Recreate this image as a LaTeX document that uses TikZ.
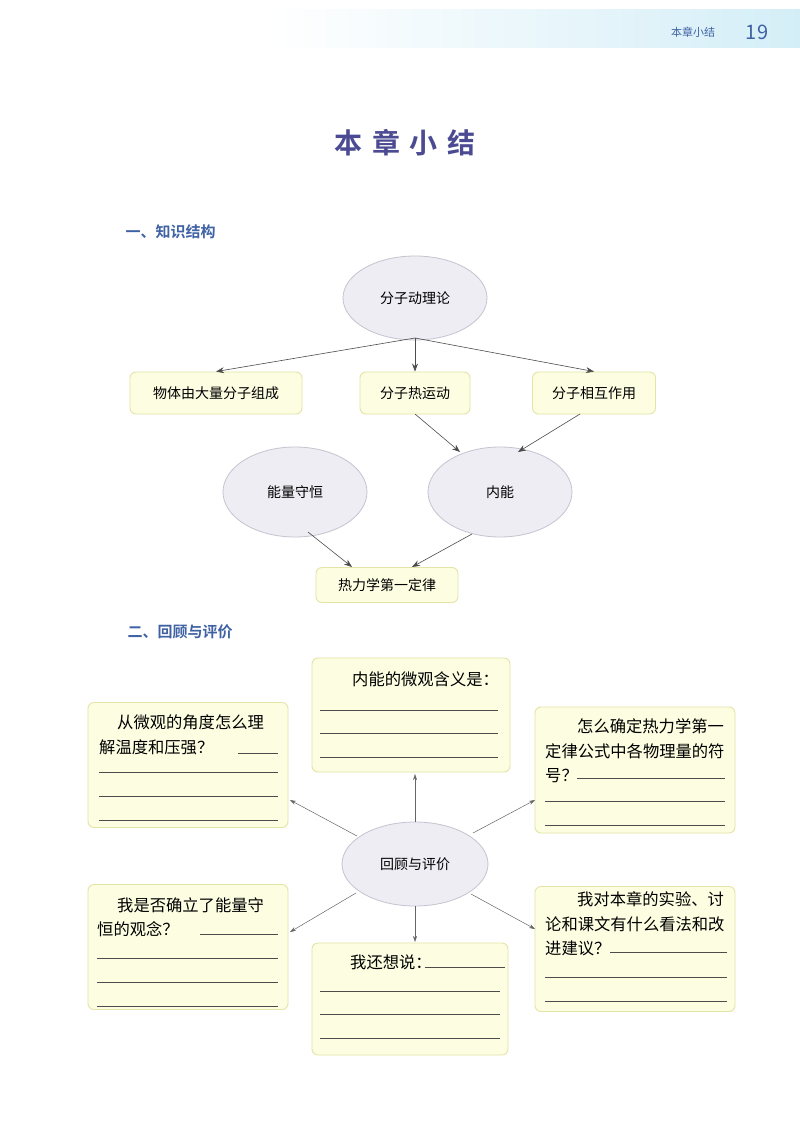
\documentclass[tikz,border=0pt]{standalone}
\usepackage{fontspec}
\setmainfont{Noto Sans CJK SC}
\newfontfamily\heavyf{Noto Sans CJK SC Bold}
\usetikzlibrary{shapes.geometric,arrows.meta}
\definecolor{boxfill}{HTML}{FDFDE2}
\definecolor{boxline}{HTML}{E4E4A6}
\definecolor{ellfill}{HTML}{EEEDF4}
\definecolor{ellline}{HTML}{C4C4D0}
\definecolor{titlec}{HTML}{4B4A92}
\definecolor{headc}{HTML}{3F62A4}
\definecolor{bandc}{HTML}{D4EEF7}
\tikzset{
 ybox/.style={draw=boxline,fill=boxfill,rounded corners=6pt,line width=0.9pt,inner sep=0pt,font=\fontsize{14}{16}\selectfont},
 ell/.style={ellipse,draw=ellline,fill=ellfill,line width=0.8pt,inner sep=0pt,font=\fontsize{14}{16}\selectfont},
 arr/.style={-{Stealth[length=8pt,width=6pt]},draw=black!70,line width=0.6pt},
 arr2/.style={-{Stealth[length=6pt,width=4pt]},draw=black!60,line width=0.5pt},
 txt/.style={anchor=base west,inner sep=0pt,font=\fontsize{16.3}{17}\selectfont},
 uline/.style={draw=black!70,line width=0.5pt}
}
\begin{document}
\begin{tikzpicture}[x=1pt,y=-1pt]
\useasboundingbox (0,0) rectangle (800,1132);
\fill[white] (0,0) rectangle (800,1132);
\shade[left color=white,right color=bandc] (270,10) rectangle (800,48);
\node[font=\fontsize{11}{12}\selectfont,text=headc] (hd) at (693,32) {本章小结};
\node[font=\fontsize{20}{22}\selectfont,text=headc] (pg) at (757,32) {19};
\node[font=\heavyf\fontsize{28}{30}\selectfont,text=titlec] (title) at (405,143) {本\hspace{10pt}章\hspace{10pt}小\hspace{10pt}结};
\node[font=\heavyf\fontsize{15}{16}\selectfont,text=headc,anchor=west] (s1) at (122,232) {一、知识结构};
\node[font=\heavyf\fontsize{15}{16}\selectfont,text=headc,anchor=west] (s2) at (124,632) {二、回顾与评价};
% part 1
\node[ell,minimum width=144pt,minimum height=84pt] (kt) at (415,298) {分子动理论};
\node[ybox,minimum width=172pt,minimum height=42pt] (b1) at (216,393) {物体由大量分子组成};
\node[ybox,minimum width=110pt,minimum height=42pt] (b2) at (415,393) {分子热运动};
\node[ybox,minimum width=123pt,minimum height=42pt] (b3) at (594,393) {分子相互作用};
\node[ell,minimum width=144pt,minimum height=90pt] (nl) at (295,492) {能量守恒};
\node[ell,minimum width=144pt,minimum height=90pt] (ne) at (500,492) {内能};
\node[ybox,minimum width=142pt,minimum height=35pt] (rl) at (387,585) {热力学第一定律};
\coordinate (k0) at (415,338);
\draw[arr] (k0) -- (b1.north);
\draw[arr] (k0) -- (b2.north);
\draw[arr] (k0) -- (b3.north);
\coordinate (b2s) at (415,414);\coordinate (ne1) at (460,452);
\coordinate (b3s) at (580,414);\coordinate (ne2) at (518,452);
\draw[arr] (b2s) -- (ne1);
\draw[arr] (b3s) -- (ne2);
\coordinate (nl1) at (308,532);\coordinate (rl1) at (352,567);
\coordinate (ne3) at (472,534);\coordinate (rl2) at (412,567);
\draw[arr] (nl1) -- (rl1);
\draw[arr] (ne3) -- (rl2);
% part 2
\node[ell,minimum width=146pt,minimum height=84pt] (hg) at (415,864) {回顾与评价};
\node[ybox,minimum width=198pt,minimum height=114pt] (q1) at (411,715) {};
\node[ybox,minimum width=200pt,minimum height=125pt] (q2) at (188,765) {};
\node[ybox,minimum width=200pt,minimum height=126pt] (q3) at (635,770) {};
\node[ybox,minimum width=200pt,minimum height=125pt] (q4) at (188,947) {};
\node[ybox,minimum width=200pt,minimum height=125pt] (q5) at (635,949) {};
\node[ybox,minimum width=196pt,minimum height=112pt] (q6) at (410,999) {};
\coordinate (h1) at (415,822);\coordinate (t1) at (415,774);
\coordinate (h2) at (357,836);\coordinate (t2) at (290,800);
\coordinate (h3) at (473,833);\coordinate (t3) at (535,800);
\coordinate (h4) at (356,893);\coordinate (t4) at (290,932);
\coordinate (h5) at (471,894);\coordinate (t5) at (535,929);
\coordinate (h6) at (415,906);\coordinate (t6) at (415,942);
\foreach \i in {1,...,6} {\draw[arr2] (h\i) -- (t\i);}
% texts
\node[txt] (x1) at (352,685) {内能的微观含义是：};
\foreach \y in {710,733,757} \draw[uline] (320,\y) -- (498,\y);
\node[txt] (x2a) at (117,728) {从微观的角度怎么理};
\node[txt] (x2b) at (99,753) {解温度和压强？};
\draw[uline] (238,753) -- (278,753);
\foreach \y in {772,796,820} \draw[uline] (99,\y) -- (278,\y);
\node[txt] (x3a) at (577,732) {怎么确定热力学第一};
\node[txt] (x3b) at (545,757) {定律公式中各物理量的符};
\node[txt] (x3c) at (545,781) {号？};
\draw[uline] (577,778) -- (725,778);
\foreach \y in {801,825} \draw[uline] (545,\y) -- (725,\y);
\node[txt] (x4a) at (117,911) {我是否确立了能量守};
\node[txt] (x4b) at (97,935) {恒的观念？};
\draw[uline] (200,934) -- (278,934);
\foreach \y in {958,982,1006} \draw[uline] (97,\y) -- (278,\y);
\node[txt] (x5a) at (577,905) {我对本章的实验、讨};
\node[txt] (x5b) at (545,930) {论和课文有什么看法和改};
\node[txt] (x5c) at (545,954) {进建议？};
\draw[uline] (610,952) -- (727,952);
\foreach \y in {977,1001} \draw[uline] (545,\y) -- (727,\y);
\node[txt] (x6) at (350,968) {我还想说：};
\draw[uline] (425,967) -- (505,967);
\foreach \y in {991,1014,1038} \draw[uline] (320,\y) -- (500,\y);
\end{tikzpicture}
\end{document}
